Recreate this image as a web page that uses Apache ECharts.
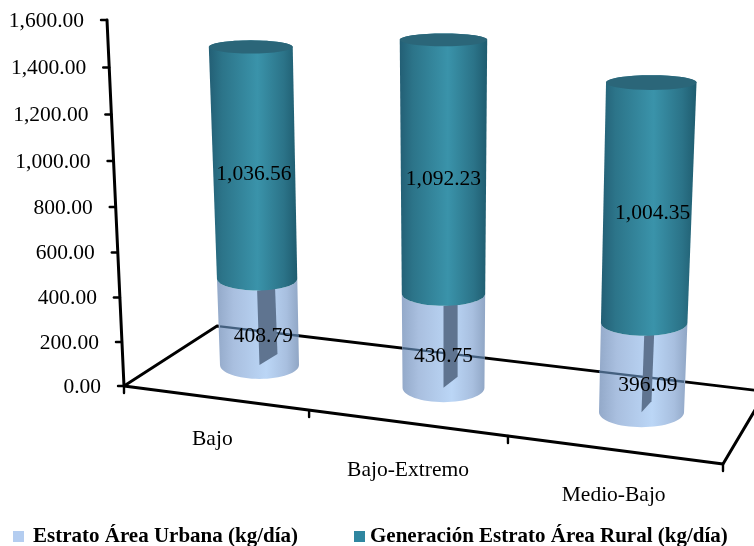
<!DOCTYPE html>
<html>
<head>
<meta charset="utf-8">
<style>html,body{margin:0;padding:0;background:#fff}#c{width:754px;height:546px}</style>
<script src="https://cdn.jsdelivr.net/npm/echarts@6/dist/echarts.min.js"></script>
</head>
<body>
<div id="c"></div>
<script>
// ---- data
const categories = ['Bajo', 'Bajo-Extremo', 'Medio-Bajo'];
const urbanName = 'Estrato Área Urbana (kg/día)';
const ruralName = 'Generación Estrato Área Rural (kg/día)';
const urbanValues = [408.79, 430.75, 396.09];
const ruralValues = [1036.56, 1092.23, 1004.35];
const yTicks = [0, 200, 400, 600, 800, 1000, 1200, 1400, 1600];

// ---- layout
const W = 754, H = 546;
const FONT = '"Liberation Serif","Times New Roman",serif';
const LABEL_SIZE = 21.5;
const gridBox = {left: 102, right: 32, top: 20, bottom: 160};
const plotW = W - gridBox.left - gridBox.right, plotH = H - gridBox.top - gridBox.bottom;
const yMax = 1600;

// perspective of the plane through the cylinders: u = category position, t = value share of the axis
function project(p) {
  const u = (p[0] - gridBox.left) / (plotW / categories.length) - 0.5;
  const t = (H - gridBox.bottom - p[1]) / plotH;
  const wx = 1 - 0.0354 * u - 0.05 * t;
  const wy = 1 - 0.0354 * u - 0.06 * t;
  return [(259.5 + 168.3 * u - 22.2 * t) / wx, (365 + 9 * u - 354.9 * t) / wy];
}
// perspective of the slanted value axis
function axisPoint(v) {
  const t = v / yMax, w = 1 - 0.043 * t;
  return [(124 - 21.6 * t) / w, (386 - 366.9 * t) / w];
}
const rx = (x, y) => 40.1 + 0.0089 * x - 0.008 * y;
const ry = y => 5.5 + 0.023 * y;

const floorA = [124, 386], floorB = [217, 326], floorC = [723, 464], floorD = [766, 391.5];
const floorTickShares = [0, 0.309, 0.641, 1];
const backLineY = x => floorB[1] + (x - floorB[0]) * (floorD[1] - floorB[1]) / (floorD[0] - floorB[0]);

function arc(c, from, to) {
  const pts = [], rxv = rx(c[0], c[1]), ryv = ry(c[1]);
  for (let i = 0; i <= 32; i++) {
    const a = from + (to - from) * i / 32;
    pts.push([c[0] + rxv * Math.cos(a), c[1] + ryv * Math.sin(a)]);
  }
  return pts;
}
const G = (stops) => new echarts.graphic.LinearGradient(0, 0, 1, 0, stops.map(s => ({offset: s[0], color: s[1]})));
const blueFill = () => G([[0, '#93a9c9'], [0.2, '#a9bfdf'], [0.6, '#bbd6f6'], [0.85, '#a8bfdf'], [1, '#90a6c5']]);
const tealFill = () => G([[0, '#235f75'], [0.15, '#2c7489'], [0.55, '#3a93aa'], [0.85, '#2b7388'], [1, '#1f5c6f']]);
const fmt = v => v.toLocaleString('en-US', {minimumFractionDigits: 2, maximumFractionDigits: 2});
const urbanLabelShift = [[5, 1], [0, 2], [5, 4]], ruralLabelShift = [[0, 0], [0, 0], [5, -2]];

function valueText(x, y, v) {
  return {type: 'text', z2: 50, style: {text: fmt(v), x: x, y: y, align: 'center', verticalAlign: 'middle',
    font: LABEL_SIZE + 'px ' + FONT, fill: '#000'}};
}

function renderUrban(params, api) {
  const i = api.value(0), v = api.value(1);
  const b = project(api.coord([i, 0])), t = project(api.coord([i, v]));
  const body = arc(b, Math.PI, 0).concat(arc(t, 0, Math.PI));
  const half = rx(b[0], b[1]);
  const wedge = 18 - (b[0] - 259) * 0.021;
  const topFront = t[1] + ry(t[1]);
  const mid = project(api.coord([i, v / 2]));
  return {type: 'group', children: [
    {type: 'polygon', shape: {points: body}, style: {fill: blueFill()}},
    {type: 'line', shape: {x1: b[0] - half, y1: backLineY(b[0] - half), x2: b[0] + half, y2: backLineY(b[0] + half)},
      style: {stroke: '#44607f', lineWidth: 2.4}},
    {type: 'polygon', shape: {points: [[t[0], topFront], [t[0] + wedge, topFront - 2], [b[0] + wedge, b[1] - 11], [b[0], b[1]]]},
      style: {fill: '#5f7490'}},
    valueText(mid[0] + urbanLabelShift[i][0], mid[1] + ry(mid[1]) + urbanLabelShift[i][1], v)
  ]};
}

function renderRural(params, api) {
  const i = api.value(0), top = api.value(1), v = api.value(2);
  const b = project(api.coord([i, top - v])), t = project(api.coord([i, top]));
  const body = arc(b, Math.PI, 0).concat(arc(t, 0, -Math.PI));
  const mid = project(api.coord([i, top - v / 2]));
  return {type: 'group', children: [
    {type: 'polygon', shape: {points: body}, style: {fill: tealFill()}},
    {type: 'polygon', shape: {points: arc(t, 0, 2 * Math.PI)}, style: {fill: '#2b6679'}},
    valueText(mid[0] + ruralLabelShift[i][0], mid[1] + ry(mid[1]) + ruralLabelShift[i][1], v)
  ]};
}

// value-axis labels sit on the slanted axis: nudge each real tick label with padding
const yRich = {};
yTicks.forEach(v => {
  const p = axisPoint(v);
  const right = Math.max(0, gridBox.left - (p[0] - 23));
  const linear = H - gridBox.bottom - plotH * v / yMax;
  const d = p[1] - linear + 1;
  yRich['k' + v] = {fontSize: LABEL_SIZE, fontFamily: FONT, color: '#000',
    padding: [d > 0 ? 2 * d : 0, right, d < 0 ? -2 * d : 0, 0]};
});
const xLabelShift = [[7, 42], [-4, 73], [-5, 98]];
const xRich = {};
categories.forEach((c, i) => {
  const s = xLabelShift[i];
  xRich['c' + i] = {fontSize: LABEL_SIZE, fontFamily: FONT, color: '#000',
    padding: [s[1], s[0] < 0 ? -2 * s[0] : 0, 0, s[0] > 0 ? 2 * s[0] : 0]};
});

// axis frame
const lineStyle = w => ({stroke: '#000', lineWidth: w, lineCap: 'round', lineJoin: 'round'});
const frame = [];
frame.push({type: 'polyline', shape: {points: yTicks.map(axisPoint)}, style: lineStyle(3)});
yTicks.forEach(v => {
  const p = axisPoint(v);
  frame.push({type: 'line', shape: {x1: p[0] - 6, y1: p[1], x2: p[0], y2: p[1]}, style: lineStyle(2.4)});
});
frame.push({type: 'polyline', shape: {points: [floorA, floorB, floorD]}, style: lineStyle(2.8)});
frame.push({type: 'polyline', shape: {points: [floorA, floorC, floorD]}, style: lineStyle(3)});
floorTickShares.forEach(s => {
  const x = floorA[0] + (floorC[0] - floorA[0]) * s, y = floorA[1] + (floorC[1] - floorA[1]) * s;
  frame.push({type: 'line', shape: {x1: x, y1: y, x2: x, y2: y + 7}, style: lineStyle(2.4)});
});

const legendBase = {
  orient: 'horizontal', top: 526, icon: 'rect', itemWidth: 11, itemHeight: 11, padding: 0,
  selectedMode: false
};
const legendText = (gap) => ({fontSize: 21, fontWeight: 'bold', fontFamily: FONT, color: '#000',
  rich: {a: {fontSize: 21, fontWeight: 'bold', fontFamily: FONT, color: '#000', padding: [0, 0, 0, gap]}}});

const chart = echarts.init(document.getElementById('c'), null, {renderer: 'canvas', width: W, height: H});
chart.setOption({
  animation: false,
  backgroundColor: '#fff',
  textStyle: {fontFamily: FONT},
  grid: gridBox,
  legend: [
    Object.assign({}, legendBase, {left: 13, data: [urbanName], formatter: n => '{a|' + n + '}', textStyle: legendText(4)}),
    Object.assign({}, legendBase, {left: 354, data: [ruralName], formatter: n => '{a|' + n + '}', textStyle: legendText(0)})
  ],
  xAxis: {type: 'category', data: categories,
    axisLine: {show: false}, axisTick: {show: false}, splitLine: {show: false},
    axisLabel: {margin: 0, hideOverlap: false, interval: 0,
      formatter: (val, idx) => '{c' + idx + '|' + val + '}', rich: xRich}},
  yAxis: {type: 'value', min: 0, max: yMax, interval: 200,
    axisLine: {show: false}, axisTick: {show: false}, splitLine: {show: false},
    axisLabel: {margin: 0, showMinLabel: true, showMaxLabel: true,
      formatter: val => '{k' + val + '|' + fmt(val) + '}', rich: yRich}},
  graphic: {elements: frame},
  series: [
    {type: 'custom', name: urbanName, renderItem: renderUrban, z: 3,
      encode: {x: 0, y: 1}, itemStyle: {color: '#b4cdf0'},
      data: urbanValues.map((v, i) => [i, v])},
    {type: 'custom', name: ruralName, renderItem: renderRural, z: 4,
      encode: {x: 0, y: 1}, itemStyle: {color: '#2f86a0'},
      data: ruralValues.map((v, i) => [i, v + urbanValues[i], v])}
  ]
});
</script>
</body>
</html>
